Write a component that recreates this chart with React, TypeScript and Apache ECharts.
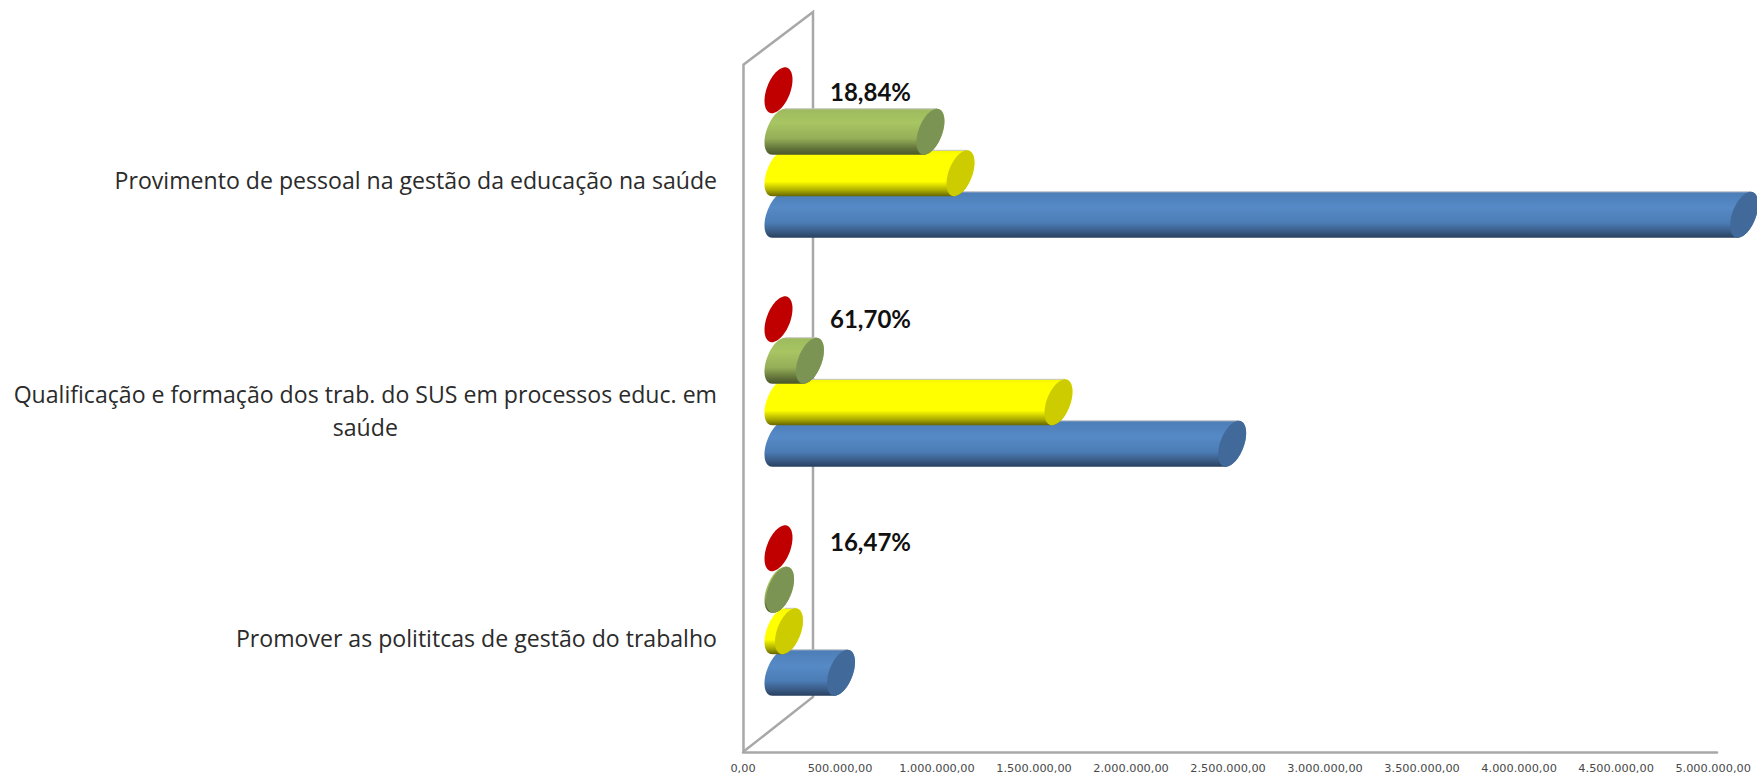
import React, { useEffect, useRef } from "react";
import * as echarts from "echarts";

const categories = [
  "Promover as polititcas de gestão do trabalho",
  "Qualificação e formação dos trab. do SUS em processos educ. em\nsaúde",
  "Provimento de pessoal na gestão da educação na saúde",
];
const blueValues = [322000, 2338000, 4977000];
const yellowValues = [54000, 1443000, 938000];
const greenValues = [8000, 162000, 783000];
const redValues = [0, 0, 0];
const percentLabels = ["16,47%", "61,70%", "18,84%"];
const percentShift = [-8, -2, 0];
const xTicks = 500000;

const DX = 35.5;
const DY = -27;
const RX = 14;
const RYD = -10.6;
const PITCH = 0.1812;

const fmt = (v: number) =>
  v.toLocaleString("de-DE", { minimumFractionDigits: 2, maximumFractionDigits: 2 });

function ellipse(cx: number, cy: number, h: number, from: number, to: number, n = 40) {
  const pts: number[][] = [];
  for (let i = 0; i <= n; i++) {
    const t = from + ((to - from) * i) / n;
    pts.push([cx + RX * Math.sin(t), cy + h * Math.cos(t) + RYD * Math.sin(t)]);
  }
  return pts;
}

function makeRender(slot: number, stops: [number, string][], capColor: string, labels?: string[]) {
  return (params: any, api: any) => {
    const value = api.value(0);
    const cat = api.value(1);
    const base = api.coord([0, cat]);
    const end = api.coord([value, cat]);
    const band = api.size([0, 1])[1];
    const cy = base[1] + DY + slot * band * PITCH;
    const x0 = base[0] + DX;
    const x1 = end[0] + DX;
    const h = band * PITCH * 0.49;
    const ty = Math.atan2(RYD, h); // angle of the top/bottom silhouette
    const children: any[] = [];
    if (value > 0) {
      // silhouette: left half of the start disc, then right half of the end disc
      const bottomT = ty;
      const topT = ty + Math.PI;
      const left = ellipse(x0, cy, h, bottomT, bottomT - Math.PI);
      const right = ellipse(x1, cy, h, topT, topT - Math.PI);
      const pts = left.concat(right);
      children.push({
        type: "polygon",
        shape: { points: pts },
        style: {
          fill: new echarts.graphic.LinearGradient(
            0, 0, 0, 1,
            stops.map(([offset, color]) => ({ offset, color }))
          ),
          stroke: null,
        },
      });
      const topY = Math.min(...pts.map((p) => p[1]));
      const topX = x0 + RX * Math.abs(Math.sin(ty));
      children.push({
        type: "line",
        shape: { x1: topX, y1: topY, x2: x1 + RX * Math.abs(Math.sin(ty)), y2: topY },
        style: { stroke: "#c4c4c4", lineWidth: 1 },
      });
    }
    children.push({
      type: "polygon",
      shape: { points: ellipse(x1, cy, h, 0, Math.PI * 2, 60) },
      style: { fill: capColor, stroke: null },
    });
    if (labels) {
      children.push({
        type: "text",
        style: {
          text: labels[params.dataIndex],
          x: x1 + 51.5,
          y: cy + 1 + percentShift[params.dataIndex],
          fontFamily: "Lato",
          fontWeight: "bold",
          fontSize: 24,
          fill: "#111111",
          align: "left",
          verticalAlign: "middle",
        },
      });
    }
    return { type: "group", children };
  };
}

function seriesOf(
  name: string,
  values: number[],
  slot: number,
  stops: [number, string][],
  capColor: string,
  z: number,
  labels?: string[]
) {
  return {
    type: "custom",
    name,
    z,
    clip: false,
    coordinateSystem: "cartesian2d",
    encode: { x: 0, y: 1 },
    data: values.map((v, i) => [v, i]),
    renderItem: makeRender(slot, stops, capColor, labels),
  };
}

export default function App() {
  const ref = useRef<HTMLDivElement>(null);
  useEffect(() => {
    const chart = echarts.init(ref.current!, undefined, { renderer: "svg" });
    const WALL = "#a8a8a8";
    const labelText = {
      align: "center",
      fontFamily: "Open Sans",
      fontSize: 23.1,
      lineHeight: 37,
      color: "#2b2b2b",
    };
    chart.setOption({
      animation: false,
      backgroundColor: "#ffffff",
      grid: { left: 743, top: 65, width: 974, height: 687, containLabel: false },
      xAxis: {
        type: "value",
        min: 0,
        max: 5020000,
        interval: xTicks,
        splitLine: { show: false },
        axisTick: { show: false },
        axisLine: { show: true, lineStyle: { color: WALL, width: 2.5 } },
        axisLabel: {
          show: true,
          showMaxLabel: false,
          margin: 11,
          color: "#484848",
          fontFamily: "DejaVu Sans",
          fontSize: 11.3,
          formatter: (v: number) => fmt(v),
        },
      },
      yAxis: {
        type: "category",
        data: categories,
        axisTick: { show: false },
        axisLine: { show: true, lineStyle: { color: WALL, width: 2.5 } },
        axisLabel: {
          margin: 26,
          color: "#2b2b2b",
          align: "right",
          fontFamily: "Open Sans",
          fontSize: 23.1,
          lineHeight: 37,
          formatter: (v: string) => {
            const lines = v.split("\n");
            return lines
              .map((s, i) => (lines.length > 1 && i === 0 ? `{m|${s}}` : `{l|${s}}`))
              .join("\n");
          },
          rich: {
            l: labelText,
            m: { ...labelText, padding: [7, 0, 0, 0] },
          },
        },
      },
      graphic: [
        {
          type: "polyline",
          z: 0,
          shape: { points: [[743, 65], [813, 12], [813, 697], [743, 752]] },
          style: { stroke: WALL, lineWidth: 2.5, fill: null },
        },
      ],
      series: [
        seriesOf("Vermelho", redValues, -1.5, [[0, "#c00000"], [1, "#c00000"]], "#c00000", 2, percentLabels),
        seriesOf(
          "Azul",
          blueValues,
          1.5,
          [[0, "#4c7db7"], [0.35, "#568ac6"], [0.68, "#4b7cb5"], [0.9, "#36557c"], [1, "#28405f"]],
          "#416a9a",
          3
        ),
        seriesOf(
          "Amarelo",
          yellowValues,
          0.5,
          [[0, "#f5f500"], [0.1, "#ffff00"], [0.68, "#ffff00"], [0.88, "#a8a800"], [1, "#666600"]],
          "#cccc00",
          4
        ),
        seriesOf(
          "Verde",
          greenValues,
          -0.5,
          [[0, "#9dbb5e"], [0.3, "#a8c562"], [0.65, "#94ae58"], [0.88, "#5f7038"], [1, "#4a5829"]],
          "#7b9454",
          5
        ),
      ],
    });
    return () => chart.dispose();
  }, []);
  return (
    <div
      ref={ref}
      style={{ position: "absolute", left: 0, top: 0, width: 1757, height: 777 }}
    />
  );
}
